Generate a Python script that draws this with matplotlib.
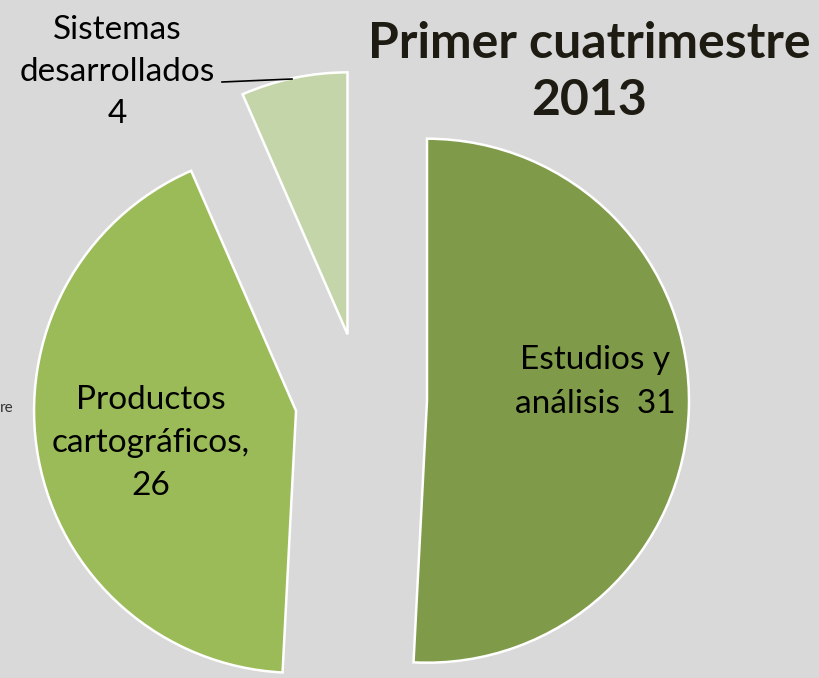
import numpy as np
import matplotlib.pyplot as plt

categorias = ["Estudios y\nanálisis  31", "Productos\ncartográficos,\n26", "Sistemas\ndesarrollados\n4"]
valores = [31, 26, 4]
colores = ["#7f9a48", "#9bbb59", "#c4d6a9"]

W, H = 819, 678
R = 262.0
cx, cy = 361.0, 399.0  # pie centre in pixels (from top)

fig = plt.figure(figsize=(W / 100, H / 100), dpi=100)
fig.patch.set_facecolor("#d9d9d9")
ax = fig.add_axes([0, 0, 1, 1])
ax.set_facecolor("#d9d9d9")

wedges, _ = ax.pie(valores, colors=colores, startangle=90, counterclock=False,
                   explode=[0.252] * 3, radius=1.0,
                   wedgeprops=dict(edgecolor="white", linewidth=1.8))

# axes in units of the radius, matched to the pixel layout
ax.set_xlim(-cx / R, (W - cx) / R)
ax.set_ylim(-(H - cy) / R, cy / R)
ax.set_aspect("equal")
ax.axis("off")


def px(x, y):
    return ((x - cx) / R, (cy - y) / R)


fuente = ["Lato", "DejaVu Sans"]
ax.text(*px(595, 382), categorias[0], ha="center", va="center", fontsize=24,
        family=fuente, linespacing=1.55)
ax.text(*px(151, 443), categorias[1], ha="center", va="center", fontsize=24,
        family=fuente, linespacing=1.55)
ax.text(*px(117, 72), categorias[2], ha="center", va="center", fontsize=24,
        family=fuente, linespacing=1.5)
ax.plot(*zip(px(222, 82), px(292, 79)), color="black", lw=1.2)

ax.text(*px(589, 72), "Primer cuatrimestre\n2013", ha="center", va="center",
        fontsize=36, fontweight="bold", color="#1e1c12", family=fuente,
        linespacing=1.3)

ax.text(*px(0, 408), "re", ha="left", va="center", fontsize=11,
        color="#333333", family=fuente)

fig.savefig("out.png", dpi=100, facecolor=fig.get_facecolor())
